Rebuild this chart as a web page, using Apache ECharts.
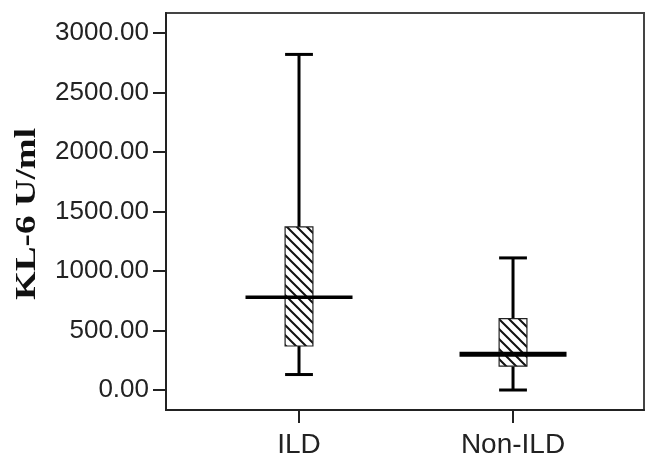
<!DOCTYPE html>
<html>
<head>
<meta charset="utf-8">
<script src="https://cdn.jsdelivr.net/npm/echarts@6/dist/echarts.min.js"></script>
<style>
html,body{margin:0;padding:0;background:#fff;}
#chart{width:648px;height:463px;}
</style>
</head>
<body>
<div id="chart"></div>
<script>
// ---- data ----
const categories = ['ILD', 'Non-ILD'];
const mins    = [130, 0];
const q1s     = [370, 200];
const medians = [780, 300];
const q3s     = [1370, 600];
const maxs    = [2820, 1110];
const yTicks  = [0, 500, 1000, 1500, 2000, 2500, 3000];
const yTitle  = 'KL-6 U/ml';

// hatch pattern
function makeHatch() {
  const c = document.createElement('canvas');
  const s = 10;
  c.width = s; c.height = s;
  const g = c.getContext('2d');
  g.fillStyle = '#fff';
  g.fillRect(0, 0, s, s);
  g.strokeStyle = '#111';
  g.lineWidth = 2;
  g.beginPath();
  g.moveTo(-3, -3); g.lineTo(s + 3, s + 3);
  g.moveTo(-3, s - 3); g.lineTo(3, s + 3);
  g.moveTo(s - 3, -3); g.lineTo(s + 3, 3);
  g.stroke();
  return c;
}
const hatch = makeHatch();

const boxData = categories.map((c, i) => [i, mins[i], q1s[i], medians[i], q3s[i], maxs[i]]);

const chart = echarts.init(document.getElementById('chart'), null, {renderer: 'canvas'});

function renderItem(params, api) {
  const i = api.value(0);
  const pMin = api.coord([i, api.value(1)]);
  const pQ1 = api.coord([i, api.value(2)]);
  const pMed = api.coord([i, api.value(3)]);
  const pQ3 = api.coord([i, api.value(4)]);
  const pMax = api.coord([i, api.value(5)]);
  const unit = api.size([1, 0])[0];
  const bw = unit * 0.13;
  const mw = unit * 0.5;
  const x = pMed[0];
  const medLW = i === 0 ? 3.5 : 5;
  const lineStyle = {stroke: '#000', lineWidth: 3};
  return {
    type: 'group',
    children: [
      {type: 'line', shape: {x1: x, y1: pMax[1], x2: x, y2: pQ3[1]}, style: lineStyle},
      {type: 'line', shape: {x1: x, y1: pQ1[1], x2: x, y2: pMin[1]}, style: lineStyle},
      {type: 'line', shape: {x1: x - bw / 2, y1: pMax[1], x2: x + bw / 2, y2: pMax[1]}, style: lineStyle},
      {type: 'line', shape: {x1: x - bw / 2, y1: pMin[1], x2: x + bw / 2, y2: pMin[1]}, style: lineStyle},
      {type: 'rect', shape: {x: x - bw / 2, y: pQ3[1], width: bw, height: pQ1[1] - pQ3[1]},
        style: {fill: {image: hatch, repeat: 'repeat'}, stroke: '#222', lineWidth: 1.2}},
      {type: 'line', shape: {x1: x - mw / 2, y1: pMed[1], x2: x + mw / 2, y2: pMed[1]},
        style: {stroke: '#000', lineWidth: medLW}}
    ]
  };
}

chart.setOption({
  animation: false,
  backgroundColor: '#fff',
  grid: {left: 166, top: 13, width: 478, height: 397, show: true, borderColor: '#444', borderWidth: 2},
  xAxis: {
    type: 'value',
    min: -0.6215,
    max: 1.612,
    axisLine: {show: true, onZero: false, lineStyle: {color: '#222', width: 2}},
    axisTick: {show: true, length: 13, customValues: [0, 1], lineStyle: {color: '#222', width: 2}},
    axisLabel: {
      customValues: [0, 1],
      formatter: v => categories[Math.round(v)] || '',
      fontFamily: 'Liberation Sans', fontSize: 28, color: '#222', margin: 21
    },
    splitLine: {show: false}
  },
  yAxis: {
    type: 'value',
    min: -168,
    max: 3168,
    axisLine: {show: true, onZero: false, lineStyle: {color: '#222', width: 2}},
    axisTick: {show: true, length: 13, customValues: yTicks, lineStyle: {color: '#222', width: 2}},
    axisLabel: {
      customValues: yTicks,
      formatter: v => Number(v).toFixed(2),
      fontFamily: 'Liberation Sans', fontSize: 26, color: '#222', margin: 17
    },
    splitLine: {show: false}
  },
  graphic: [{
    type: 'text',
    x: 28, y: 214,
    rotation: Math.PI / 2,
    scaleX: 1.28,
    style: {
      text: yTitle,
      font: 'bold 29px "Liberation Serif"',
      fill: '#111',
      textAlign: 'center',
      textVerticalAlign: 'middle'
    }
  }],
  series: [{
    type: 'custom',
    renderItem: renderItem,
    encode: {x: 0, y: [1, 2, 3, 4, 5]},
    data: boxData,
    clip: false
  }]
});
</script>
</body>
</html>
